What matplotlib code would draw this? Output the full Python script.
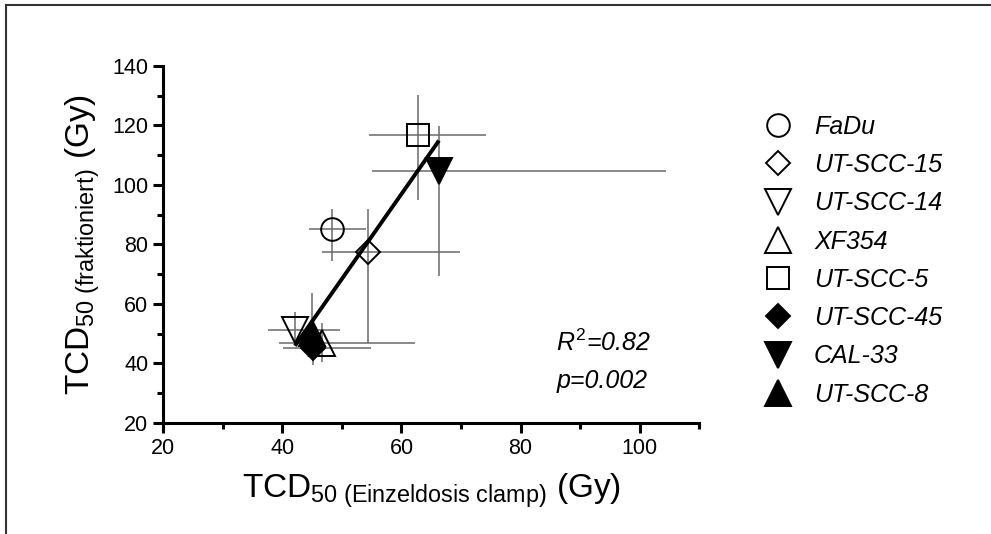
# coding=utf-8
# TCD50 fractionated vs. single dose (clamp) scatter with regression line
import numpy as np
import matplotlib as mpl
mpl.use('Agg')
mpl.rcParams['font.family'] = 'Liberation Sans'
mpl.rcParams['mathtext.fontset'] = 'custom'
mpl.rcParams['mathtext.rm'] = 'Liberation Sans'
mpl.rcParams['mathtext.it'] = 'Liberation Sans:italic'
import matplotlib.pyplot as plt
from matplotlib.lines import Line2D

# Data
names = ['FaDu', 'UT-SCC-15', 'UT-SCC-14', 'XF354', 'UT-SCC-5', 'UT-SCC-45', 'CAL-33', 'UT-SCC-8']
x_single = [48.3, 54.3, 42.1, 46.7, 62.8, 45.2, 66.3, 45.0]
x_low = [44.4, 46.7, 37.6, 39.5, 54.6, 40.1, 55.0, 43.5]
x_high = [54.1, 69.9, 49.7, 62.2, 74.2, 54.8, 104.5, 46.5]
y_frac = [85.0, 77.5, 51.4, 47.0, 116.9, 45.1, 104.7, 50.3]
y_low = [74.4, 46.9, 47.0, 40.5, 94.8, 39.5, 69.3, 44.0]
y_high = [92.0, 92.0, 57.2, 53.5, 130.1, 50.0, 119.7, 63.5]
p_value = 0.002

markers = ['o', 'D', 'v', '^', 's', 'D', 'v', '^']
filled = [False, False, False, False, False, True, True, True]
sizes = {'o': 16.3, 's': 16.3, 'D': 12.6, 'v': 18.5, '^': 18.5}

fig = plt.figure(figsize=(9.91, 5.34), dpi=100)
ax = fig.add_axes([0.1649, 0.2079, 0.5405, 0.669])

handles = []
for i, name in enumerate(names):
    x, y = x_single[i], y_frac[i]
    ax.errorbar(x, y, xerr=[[x - x_low[i]], [x_high[i] - x]], yerr=[[y - y_low[i]], [y_high[i] - y]],
                fmt='none', ecolor='#6a6a6a', elinewidth=1.1, capsize=0, zorder=2)
    mfc = 'black' if filled[i] else 'none'
    h, = ax.plot([x], [y], marker=markers[i], ms=sizes[markers[i]], mfc=mfc, mec='black', mew=1.4,
                 ls='none', zorder=3, label=name)
    handles.append(h)

# Linear regression
slope, intercept = np.polyfit(x_single, y_frac, 1)
r2 = np.corrcoef(x_single, y_frac)[0, 1] ** 2
xs = np.array([min(x_single), max(x_single)])
ax.plot(xs, slope * xs + intercept, color='black', lw=2.8, zorder=4, solid_capstyle='butt')

ax.text(86.0, 46.8, r'$R^2$=%.2f' % r2, fontsize=18, va='center', ha='left', style='italic')
ax.text(86.0, 34.1, 'p=%.3f' % p_value, fontsize=18, va='center', ha='left', style='italic')

# Axes
ax.set_xlim(20, 110)
ax.set_ylim(20, 140)
ax.set_xticks([20, 40, 60, 80, 100])
ax.set_xticks([30, 50, 70, 90, 110], minor=True)
ax.set_yticks(np.arange(20, 141, 20))
ax.set_yticks(np.arange(30, 131, 20), minor=True)
for s in ['top', 'right']:
    ax.spines[s].set_visible(False)
for s in ['left', 'bottom']:
    ax.spines[s].set_linewidth(2.2)
ax.tick_params(which='major', length=7, width=2.2, direction='out', labelsize=15.5, pad=4)
ax.tick_params(which='minor', length=4.5, width=2.2, direction='out')

ax.set_xlabel(r'TCD$_{\mathrm{50\ (Einzeldosis\ clamp)}}$ (Gy)', fontsize=24, labelpad=9)
ax.set_ylabel(r'TCD$_{\mathrm{50\ (fraktioniert)}}$ (Gy)', fontsize=24, labelpad=7)

# Legend
fig.legend(handles=handles, loc='upper left', bbox_to_anchor=(0.7725, 0.785), frameon=False,
           prop=dict(style='italic', size=18), labelspacing=0.57, handlelength=1.0,
           handletextpad=0.94, borderaxespad=0, borderpad=0, numpoints=1)

# Outer frame (top and left edges)
fig.add_artist(Line2D([0.006, 0.006], [0.0, 0.9906], transform=fig.transFigure, color='#333333', lw=1.5))
fig.add_artist(Line2D([0.006, 1.0], [0.9906, 0.9906], transform=fig.transFigure, color='#333333', lw=1.5))

fig.savefig('out.png', dpi=100)
plt.close()
